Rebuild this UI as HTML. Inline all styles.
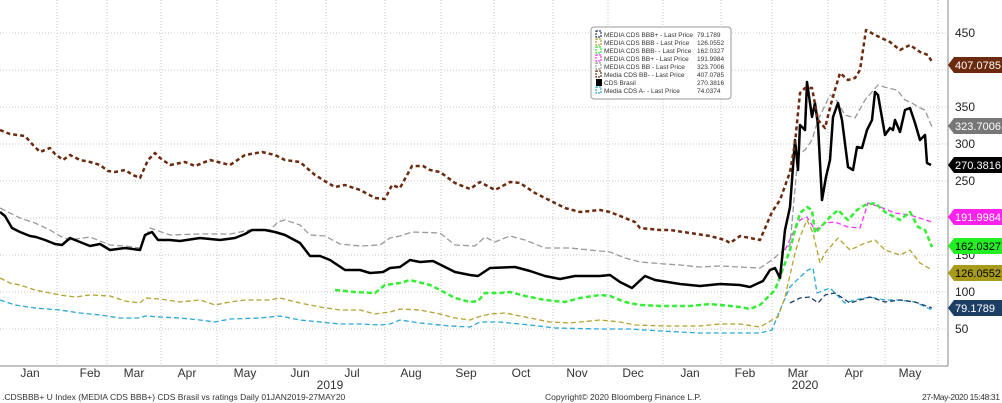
<!DOCTYPE html>
<html><head><meta charset="utf-8"><style>
body{margin:0;background:#fff;}
svg{display:block;font-family:"Liberation Sans",sans-serif;}
</style></head><body>
<svg width="1002" height="403" viewBox="0 0 1002 403">
<rect width="1002" height="403" fill="#fff"/>
<g stroke="#c8c8c8" stroke-dasharray="1,2" stroke-width="1">
<line x1="0" y1="33" x2="948" y2="33"/><line x1="0" y1="70" x2="948" y2="70"/>
<line x1="0" y1="107" x2="948" y2="107"/><line x1="0" y1="144" x2="948" y2="144"/>
<line x1="0" y1="181" x2="948" y2="181"/><line x1="0" y1="218" x2="948" y2="218"/>
<line x1="0" y1="255" x2="948" y2="255"/><line x1="0" y1="292" x2="948" y2="292"/>
<line x1="0" y1="329" x2="948" y2="329"/>
<line x1="57" y1="0" x2="57" y2="365"/><line x1="107" y1="0" x2="107" y2="365"/>
<line x1="161" y1="0" x2="161" y2="365"/><line x1="217" y1="0" x2="217" y2="365"/>
<line x1="276" y1="0" x2="276" y2="365"/><line x1="326" y1="0" x2="326" y2="365"/>
<line x1="385" y1="0" x2="385" y2="365"/><line x1="441" y1="0" x2="441" y2="365"/>
<line x1="494" y1="0" x2="494" y2="365"/><line x1="553" y1="0" x2="553" y2="365"/>
<line x1="608" y1="0" x2="608" y2="365"/><line x1="663" y1="0" x2="663" y2="365"/>
<line x1="721" y1="0" x2="721" y2="365"/><line x1="772" y1="0" x2="772" y2="365"/>
<line x1="828" y1="0" x2="828" y2="365"/><line x1="885" y1="0" x2="885" y2="365"/>
<line x1="938" y1="0" x2="938" y2="365"/>
</g>
<line x1="948" y1="0" x2="948" y2="366" stroke="#888"/>
<line x1="0" y1="366" x2="948" y2="366" stroke="#888"/>
<g fill="none" stroke-linejoin="round">
<polyline stroke="#2aa8d8" stroke-width="1.3" stroke-dasharray="5,3" points="0,300 15,305 35,308 60,310 80,313 100,315 120,318 140,318 145,316 160,317 180,318 200,320 215,322 230,319 260,318 280,316 300,320 320,322 340,324 360,324 380,325 390,324 400,320 420,323 450,326 470,327 480,322 500,322 530,325 555,328 600,329 630,329 660,331 700,333 740,333 760,333 772,330 780,310 790,287 800,277 808,270 813,268 817,293 830,288 845,303 855,300 870,297 885,300 900,300 915,302 932,310"/>
<polyline stroke="#1d3f66" stroke-width="1.3" stroke-dasharray="5,3" points="790,303 800,298 810,297 818,303 825,295 835,293 850,303 870,297 885,302 900,300 915,302 932,308"/>
<polyline stroke="#b5a230" stroke-width="1.3" stroke-dasharray="5,3" points="0,278 10,283 20,285 35,290 50,293 60,295 75,297 90,295 110,296 125,301 140,303 145,298 160,299 180,302 200,300 215,305 230,302 245,300 270,300 280,298 300,303 320,307 340,310 360,310 375,314 390,312 400,309 420,310 440,314 455,318 470,320 478,317 490,314 505,313 520,316 550,322 570,323 600,320 620,322 635,325 665,326 700,326 720,324 740,324 760,327 772,320 778,317 785,297 795,253 800,237 807,220 813,233 820,263 825,253 838,238 850,250 865,243 875,240 885,250 900,255 910,250 920,263 932,270"/>
<polyline stroke="#ff33ff" stroke-width="1.3" stroke-dasharray="5,3" points="785,250 793,233 800,220 807,217 815,230 825,223 835,222 848,227 860,228 868,203 880,207 895,213 910,215 932,222"/>
<polyline stroke="#33ee33" stroke-width="2.5" stroke-dasharray="5,3" points="335,290 355,292 375,293 385,285 400,283 410,280 430,285 440,290 455,298 470,302 478,301 485,293 500,293 510,292 525,296 545,300 565,302 580,298 600,295 610,296 625,302 640,305 660,306 690,306 710,304 720,305 740,307 750,309 760,305 775,290 790,250 795,230 800,213 807,207 812,210 815,233 820,228 830,217 838,210 848,220 857,210 865,205 875,203 885,212 900,220 910,212 918,227 925,230 932,247"/>
<polyline stroke="#999" stroke-width="1.3" stroke-dasharray="6,3" points="0,208 8,212 20,218 35,223 50,230 60,236 70,240 90,237 110,245 125,246 140,248 150,228 170,235 200,234 230,234 250,230 270,230 278,222 285,220 300,225 310,235 325,236 340,244 360,246 380,245 390,238 400,236 412,232 440,233 455,245 475,246 485,237 495,242 510,236 525,240 545,248 570,248 590,250 610,252 625,258 640,262 665,264 680,265 700,267 720,266 740,267 760,268 772,260 780,253 790,245 798,155 805,150 812,140 818,120 830,95 835,98 845,115 855,118 865,100 878,85 888,88 897,90 905,100 912,103 918,107 925,110 932,127"/>
<polyline stroke="#000" stroke-width="2.5" points="0,212 5,216 12,228 20,232 30,236 36,237 45,240 55,244 62,245 70,238 80,242 90,246 100,244 110,250 125,248 140,250 145,235 152,232 158,240 170,240 180,241 200,238 220,240 235,238 245,234 252,230 265,230 275,232 285,235 300,243 310,256 320,256 330,260 345,270 360,270 370,273 383,272 390,268 400,267 410,260 420,262 433,261 455,272 470,275 478,276 490,268 515,267 530,271 545,276 560,279 575,276 600,276 610,275 620,282 632,288 645,276 655,280 680,284 700,286 720,284 740,285 750,287 763,281 770,270 775,268 780,278 785,230 790,207 795,140 798,170 800,125 805,130 807,82 812,117 815,103 818,125 822,200 826,177 830,160 833,117 838,103 842,120 848,167 853,170 857,147 862,148 867,130 872,120 875,92 878,95 885,135 890,128 893,130 895,120 900,132 905,110 910,108 915,123 920,140 925,135 927,163 931,165"/>
<polyline stroke="#6b2a0e" stroke-width="2.5" stroke-dasharray="4,3" points="0,130 10,134 25,136 33,145 40,152 50,148 55,154 63,160 70,155 80,160 90,162 100,165 108,171 115,172 125,170 133,175 140,178 148,160 155,153 160,158 170,165 185,162 195,166 210,160 230,165 245,155 262,152 275,155 285,160 300,162 315,175 328,183 335,187 345,185 360,190 375,198 385,199 392,185 400,188 412,166 423,166 430,170 440,172 455,183 470,189 480,182 495,190 510,182 520,183 535,193 553,202 565,208 580,212 600,210 610,212 625,218 635,222 640,228 660,230 670,230 690,233 710,236 725,240 730,243 740,236 760,240 772,212 780,200 790,172 795,143 800,93 805,88 812,88 818,120 825,128 832,100 840,73 848,80 855,78 860,70 866,30 875,35 890,42 900,50 910,45 920,52 928,55 932,62"/>
</g>
<g font-size="12" fill="#222">
<text x="955" y="37">450</text><text x="955" y="111">350</text><text x="955" y="148">300</text>
<text x="955" y="185">250</text><text x="955" y="222">200</text><text x="955" y="259">150</text>
<text x="955" y="296">100</text><text x="955" y="333">50</text>
</g>
<g font-size="11" fill="#fff">
<path d="M948,65 l6,-8 h48 v16 h-48z" fill="#6b2a0e"/><text x="955" y="69" textLength="46">407.0785</text>
<path d="M948,126 l6,-8 h48 v16 h-48z" fill="#777"/><text x="955" y="130" textLength="46">323.7006</text>
<path d="M948,165 l6,-8 h48 v16 h-48z" fill="#000"/><text x="955" y="169" textLength="46">270.3816</text>
<path d="M948,217 l6,-8 h48 v16 h-48z" fill="#ff22ee"/><text x="955" y="221" textLength="46">191.9984</text>
<path d="M948,246 l6,-8 h48 v16 h-48z" fill="#22ee22"/><text x="955" y="250" fill="#000" textLength="46">162.0327</text>
<path d="M948,273 l6,-8 h48 v16 h-48z" fill="#a89a1a"/><text x="955" y="277" fill="#000" textLength="46">126.0552</text>
<path d="M948,308 l6,-8 h48 v16 h-48z" fill="#1d3f66"/><text x="955" y="312" textLength="40">79.1789</text>
</g>
<g font-size="12" fill="#333" text-anchor="middle">
<text x="30" y="377">Jan</text><text x="90" y="377">Feb</text><text x="134" y="377">Mar</text>
<text x="187" y="377">Apr</text><text x="245" y="377">May</text><text x="300" y="377">Jun</text>
<text x="352" y="377">Jul</text><text x="411" y="377">Aug</text><text x="466" y="377">Sep</text>
<text x="521" y="377">Oct</text><text x="577" y="377">Nov</text><text x="633" y="377">Dec</text>
<text x="690" y="377">Jan</text><text x="745" y="377">Feb</text><text x="798" y="377">Mar</text>
<text x="854" y="377">Apr</text><text x="910" y="377">May</text>
<text x="330" y="389">2019</text><text x="805" y="389">2020</text>
</g>
<g font-size="8.5" fill="#333">
<text x="2" y="400">.CDSBBB+ U Index (MEDIA CDS BBB+) CDS Brasil vs ratings  Daily 01JAN2019-27MAY20</text>
<text x="545" y="400">Copyright© 2020 Bloomberg Finance L.P.</text>
<text x="922" y="400" textLength="78">27-May-2020 15:48:31</text>
</g>
<rect x="591" y="27" width="140" height="72" rx="3" fill="#fff" stroke="#999"/>
<g font-size="6.5" fill="#333">
<text x="604" y="37">MEDIA CDS BBB+ - Last Price</text><text x="697" y="37">79.1789</text>
<text x="604" y="45">MEDIA CDS BBB - Last Price</text><text x="697" y="45">126.0552</text>
<text x="604" y="53">MEDIA CDS BBB- - Last Price</text><text x="697" y="53">162.0327</text>
<text x="604" y="61">MEDIA CDS BB+ - Last Price</text><text x="697" y="61">191.9984</text>
<text x="604" y="69">MEDIA CDS BB - Last Price</text><text x="697" y="69">323.7006</text>
<text x="604" y="77">Media CDS BB- - Last Price</text><text x="697" y="77">407.0785</text>
<text x="604" y="85">CDS Brasil</text><text x="697" y="85">270.3816</text>
<text x="604" y="93">Media CDS A- - Last Price</text><text x="697" y="93">74.0374</text>
</g>
<g fill="none" stroke-width="1.2" stroke-dasharray="2,1">
<rect x="596" y="31" width="5" height="6" stroke="#1d3f66"/>
<rect x="596" y="39" width="5" height="6" stroke="#b5a230"/>
<rect x="596" y="47" width="5" height="6" stroke="#33ee33"/>
<rect x="596" y="55" width="5" height="6" stroke="#ff33ff"/>
<rect x="596" y="63" width="5" height="6" stroke="#999"/>
<rect x="596" y="71" width="5" height="6" stroke="#6b2a0e"/>
<rect x="596" y="87" width="5" height="6" stroke="#2aa8d8"/>
</g>
<rect x="596" y="79" width="6" height="7" fill="#000"/>
</svg>
</body></html>
